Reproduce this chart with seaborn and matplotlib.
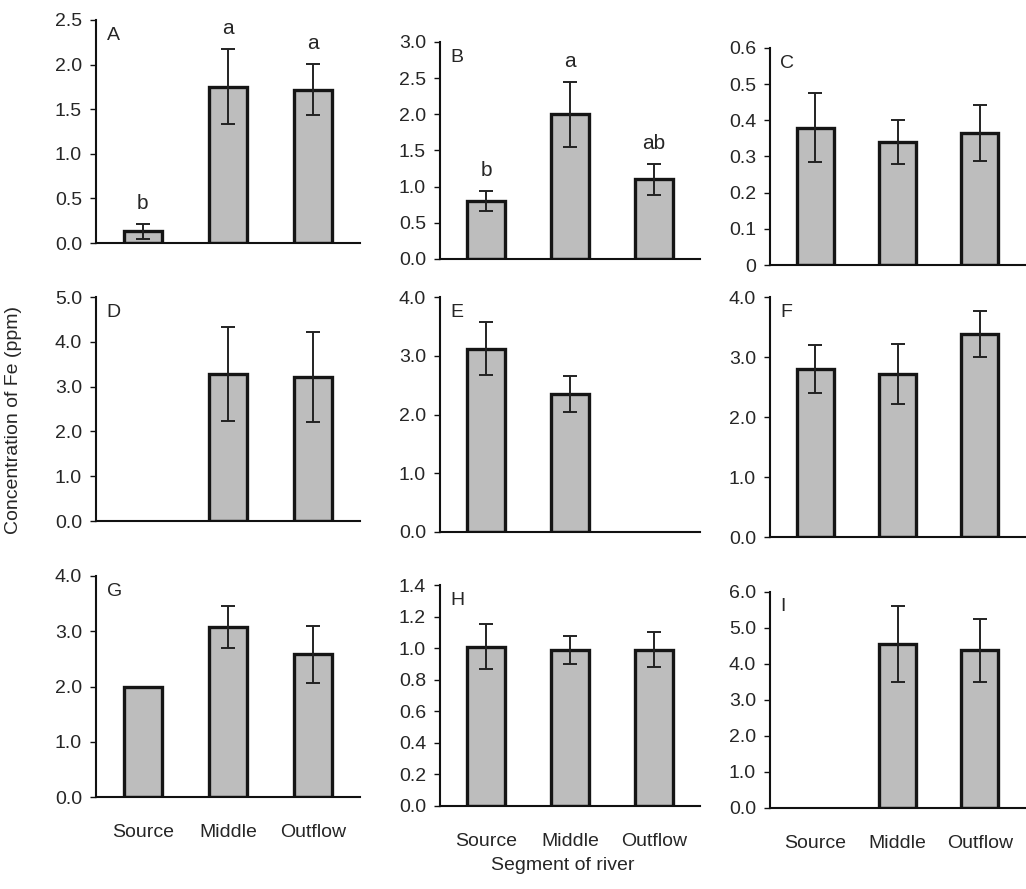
import numpy as np
import pandas as pd
import matplotlib
matplotlib.use("Agg")
import matplotlib.pyplot as plt
import seaborn as sns

segments = ["Source", "Middle", "Outflow"]

# mean Fe concentration (ppm) and error per panel
panels = ["A", "B", "C", "D", "E", "F", "G", "H", "I"]
means = {
    "A": [0.13, 1.75, 1.72],
    "B": [0.80, 2.00, 1.10],
    "C": [0.38, 0.34, 0.365],
    "D": [0.0, 3.28, 3.22],
    "E": [3.12, 2.35, 0.0],
    "F": [2.80, 2.72, 3.38],
    "G": [2.00, 3.07, 2.58],
    "H": [1.01, 0.99, 0.99],
    "I": [0.0, 4.55, 4.38],
}
errors = {
    "A": [0.08, 0.42, 0.29],
    "B": [0.14, 0.45, 0.22],
    "C": [0.095, 0.06, 0.078],
    "D": [0.0, 1.05, 1.0],
    "E": [0.45, 0.30, 0.0],
    "F": [0.40, 0.50, 0.38],
    "G": [0.0, 0.38, 0.52],
    "H": [0.14, 0.09, 0.11],
    "I": [0.0, 1.05, 0.88],
}
letters = {
    "A": ["b", "a", "a"],
    "B": ["b", "a", "ab"],
}
yticks = {
    "A": [0.0, 0.5, 1.0, 1.5, 2.0, 2.5],
    "B": [0.0, 0.5, 1.0, 1.5, 2.0, 2.5, 3.0],
    "C": [0, 0.1, 0.2, 0.3, 0.4, 0.5, 0.6],
    "D": [0.0, 1.0, 2.0, 3.0, 4.0, 5.0],
    "E": [0.0, 1.0, 2.0, 3.0, 4.0],
    "F": [0.0, 1.0, 2.0, 3.0, 4.0],
    "G": [0.0, 1.0, 2.0, 3.0, 4.0],
    "H": [0.0, 0.2, 0.4, 0.6, 0.8, 1.0, 1.2, 1.4],
    "I": [0.0, 1.0, 2.0, 3.0, 4.0, 5.0, 6.0],
}

sns.set_style("white")
plt.rcParams["font.family"] = ["Liberation Sans", "DejaVu Sans"]

W, H = 1026, 889
fig = plt.figure(figsize=(W / 100, H / 100), dpi=100)

# axes boxes in pixels: left, top, right, bottom
boxes = {
    "A": (96, 20, 360, 243), "B": (440, 42, 700, 259), "C": (770, 48, 1025, 265),
    "D": (96, 297, 360, 521), "E": (440, 297, 700, 532), "F": (770, 297, 1025, 537),
    "G": (96, 576, 360, 797), "H": (440, 585, 700, 806), "I": (770, 592, 1025, 808),
}

for i, p in enumerate(panels):
    l, t, r, b = boxes[p]
    ax = fig.add_axes([l / W, 1 - b / H, (r - l) / W, (b - t) / H])
    df = pd.DataFrame({"segment": segments, "fe": means[p]})
    sns.barplot(data=df, x="segment", y="fe", ax=ax, color="#bdbdbd",
                edgecolor="#151515", linewidth=2.4, width=0.45, saturation=1)
    # empty segments: no outline sitting on the baseline
    for patch in ax.patches:
        if patch.get_height() == 0:
            patch.set_linewidth(0)
    x = np.arange(len(segments))
    m = np.array(means[p])
    e = np.array(errors[p])
    has = e > 0
    ax.errorbar(x[has], m[has], yerr=e[has], fmt="none", ecolor="#222222",
                elinewidth=1.4, capsize=5, capthick=1.4)
    if p in letters:
        for xi, yi, ei, lab in zip(x, m, e, letters[p]):
            ax.text(xi, yi + ei + 0.05 * yticks[p][-1], lab, ha="center",
                    va="bottom", fontsize=15)
    ax.set_ylim(0, yticks[p][-1])
    ax.set_yticks(yticks[p])
    if p == "C":
        ax.set_yticklabels(["0"] + [f"{v:.1f}" for v in yticks[p][1:]])
    else:
        ax.set_yticklabels([f"{v:.1f}" for v in yticks[p]])
    ax.set_xlim(-0.55, 2.55)
    ax.set_xlabel("")
    ax.set_ylabel("")
    ax.text(0.04, 0.97, p, transform=ax.transAxes, ha="left", va="top", fontsize=14)
    for s in ["top", "right"]:
        ax.spines[s].set_visible(False)
    for s in ["left", "bottom"]:
        ax.spines[s].set_color("#111111")
        ax.spines[s].set_linewidth(1.5)
    ax.tick_params(axis="y", direction="out", length=4, width=1, labelsize=14,
                   left=True, color="#111111", pad=6)
    if i >= 6:
        ax.tick_params(axis="x", bottom=False, labelsize=14, pad=16)
    else:
        ax.tick_params(axis="x", bottom=False, labelbottom=False)
    ax.set_facecolor("white")

fig.text(14 / W, 1 - 420 / H, "Concentration of Fe (ppm)", rotation=90,
         ha="center", va="center", fontsize=14)
fig.text(563 / W, 1 - 866 / H, "Segment of river", ha="center", va="center",
         fontsize=14)

fig.savefig("out.png", dpi=100, facecolor="white")
